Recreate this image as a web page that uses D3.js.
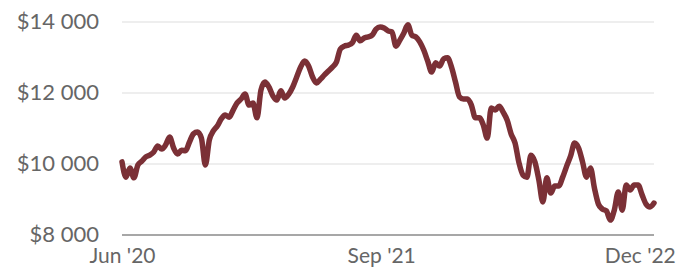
<!DOCTYPE html>
<html>
<head>
<meta charset="utf-8">
<script src="https://cdn.jsdelivr.net/npm/d3@7"></script>
<style>
  html, body { margin: 0; padding: 0; background: #fff; }
  svg { display: block; }
  text { font-family: Lato, "Noto Sans", sans-serif; }
</style>
</head>
<body>
<svg id="chart" width="689" height="275"></svg>
<script>
// Weekly values starting 2020-06-01
const startDate = "2020-06-01";
const values = [
  10060, 9630, 9890, 9610, 9970, 10080, 10200, 10250, 10340, 10510,
  10420, 10540, 10760, 10450, 10280, 10390, 10370, 10620, 10850, 10900,
  10730, 9970, 10680, 10930, 11070, 11270, 11380, 11320, 11520, 11720,
  11830, 11970, 11660, 11720, 11300, 12080, 12310, 12170, 11920, 11800,
  12060, 11860, 11970, 12170, 12450, 12730, 12900, 12760, 12450, 12280,
  12390, 12510, 12620, 12730, 12870, 13240, 13320, 13350, 13410, 13630,
  13470, 13550, 13580, 13630, 13800, 13860, 13830, 13750, 13720, 13320,
  13490, 13690, 13920, 13630, 13580, 13440, 13210, 12900, 12590, 12850,
  12760, 12960, 12990, 12730, 12310, 11890, 11830, 11830, 11660, 11300,
  11300, 11100, 10730, 11580, 11520, 11630, 11460, 11240, 10850, 10590,
  10030, 9690, 9630, 10250, 10060, 9550, 8930, 9610, 9180, 9380,
  9380, 9630, 9940, 10230, 10590, 10450, 10060, 9630, 9890, 9320,
  8870, 8730, 8680, 8420, 8700, 9210, 8700, 9410, 9270, 9410,
  9410, 9130, 8870, 8790, 8900
];
const yTicks = [8000, 10000, 12000, 14000];
const xTickDates = ["2020-06-01", "2021-09-01", "2022-12-01"];
const xTickLabels = ["Jun '20", "Sep '21", "Dec '22"];

const parse = d3.utcParse("%Y-%m-%d");
const t0 = parse(startDate);
const data = values.map((v, i) => ({ date: d3.utcDay.offset(t0, i * 7), value: v }));

const svg = d3.select("#chart");
const mLeft = 122, mRight = 654, mTop = 22, mBottom = 235;

const x = d3.scaleUtc()
  .domain([data[0].date, data[data.length - 1].date])
  .range([mLeft, mRight]);
const y = d3.scaleLinear().domain([8000, 14000]).range([mBottom, mTop]);

const fmt = v => "$" + d3.format(",")(v).replace(/,/g, " ");

// grid lines
svg.append("g").selectAll("line")
  .data(yTicks.filter(d => d !== 8000))
  .join("line")
  .attr("x1", mLeft).attr("x2", mRight)
  .attr("y1", d => y(d)).attr("y2", d => y(d))
  .attr("stroke", "#eeeeee").attr("stroke-width", 2);

// y axis labels
const yAxis = d3.axisLeft(y).tickValues(yTicks).tickFormat(fmt).tickSize(0).tickPadding(23);
const gy = svg.append("g").attr("transform", `translate(${mLeft},0)`).call(yAxis);
gy.select(".domain").remove();
gy.selectAll("text")
  .attr("fill", "#666").style("font-size", "22px").style("font-family", "Lato, sans-serif")
  .attr("dy", "0.28em");

// baseline
svg.append("line")
  .attr("x1", mLeft).attr("x2", mRight)
  .attr("y1", y(8000)).attr("y2", y(8000))
  .attr("stroke", "#8a8a8a").attr("stroke-width", 1.5);

// x axis labels
const xAxis = d3.axisBottom(x)
  .tickValues(xTickDates.map(parse))
  .tickFormat((d, i) => xTickLabels[i])
  .tickSize(0).tickPadding(13);
const gx = svg.append("g").attr("transform", `translate(0,${mBottom})`).call(xAxis);
gx.select(".domain").remove();
gx.selectAll("text")
  .attr("fill", "#666").style("font-size", "21px").style("font-family", "Lato, sans-serif");

// line
const line = d3.line().x(d => x(d.date)).y(d => y(d.value)).curve(d3.curveMonotoneX);
svg.append("path")
  .datum(data)
  .attr("fill", "none")
  .attr("stroke", "#7b3036")
  .attr("stroke-width", 5.5)
  .attr("stroke-linejoin", "round")
  .attr("stroke-linecap", "round")
  .attr("d", line);
</script>
</body>
</html>
